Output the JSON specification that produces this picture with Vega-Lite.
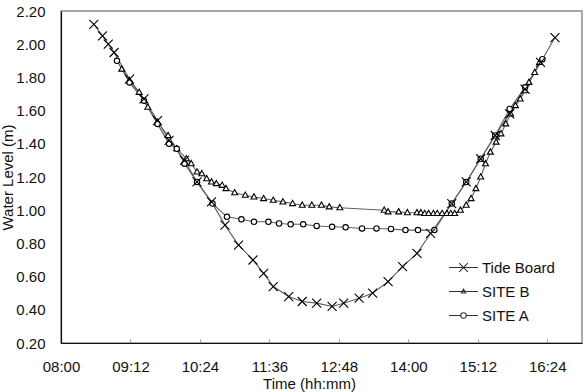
{
  "$schema": "https://vega.github.io/schema/vega-lite/v6.json",
  "width": 521,
  "height": 332,
  "autosize": {"type": "none"},
  "padding": {"left": 61, "top": 11, "right": 2, "bottom": 49},
  "background": "white",
  "config": {
    "font": "Liberation Sans",
    "view": {"stroke": "#8c8c8c", "strokeWidth": 1.5},
    "axis": {
      "labelFont": "Liberation Sans",
      "titleFont": "Liberation Sans",
      "labelFontSize": 15,
      "titleFontSize": 15,
      "labelColor": "#111",
      "titleColor": "#111",
      "titleFontWeight": "normal",
      "domainColor": "#111",
      "domainWidth": 1.2,
      "grid": false
    },
    "legend": {
      "labelFont": "Liberation Sans",
      "labelFontSize": 15,
      "labelColor": "#111"
    }
  },
  "data": {
    "values": [
      {"series": "SITE B", "time": "2000-01-01T09:03", "level": 1.85},
      {"series": "SITE B", "time": "2000-01-01T09:11", "level": 1.78},
      {"series": "SITE B", "time": "2000-01-01T09:21", "level": 1.71},
      {"series": "SITE B", "time": "2000-01-01T09:30", "level": 1.62},
      {"series": "SITE B", "time": "2000-01-01T09:40", "level": 1.53},
      {"series": "SITE B", "time": "2000-01-01T09:51", "level": 1.45},
      {"series": "SITE B", "time": "2000-01-01T10:00", "level": 1.37},
      {"series": "SITE B", "time": "2000-01-01T10:10", "level": 1.31},
      {"series": "SITE B", "time": "2000-01-01T10:15", "level": 1.28},
      {"series": "SITE B", "time": "2000-01-01T10:21", "level": 1.23},
      {"series": "SITE B", "time": "2000-01-01T10:26", "level": 1.22},
      {"series": "SITE B", "time": "2000-01-01T10:31", "level": 1.19},
      {"series": "SITE B", "time": "2000-01-01T10:36", "level": 1.17},
      {"series": "SITE B", "time": "2000-01-01T10:41", "level": 1.16},
      {"series": "SITE B", "time": "2000-01-01T10:47", "level": 1.15},
      {"series": "SITE B", "time": "2000-01-01T10:51", "level": 1.13},
      {"series": "SITE B", "time": "2000-01-01T11:00", "level": 1.105},
      {"series": "SITE B", "time": "2000-01-01T11:11", "level": 1.09},
      {"series": "SITE B", "time": "2000-01-01T11:20", "level": 1.08},
      {"series": "SITE B", "time": "2000-01-01T11:30", "level": 1.07},
      {"series": "SITE B", "time": "2000-01-01T11:40", "level": 1.06},
      {"series": "SITE B", "time": "2000-01-01T11:50", "level": 1.05},
      {"series": "SITE B", "time": "2000-01-01T12:00", "level": 1.04},
      {"series": "SITE B", "time": "2000-01-01T12:10", "level": 1.03},
      {"series": "SITE B", "time": "2000-01-01T12:20", "level": 1.03},
      {"series": "SITE B", "time": "2000-01-01T12:30", "level": 1.03},
      {"series": "SITE B", "time": "2000-01-01T12:38", "level": 1.02},
      {"series": "SITE B", "time": "2000-01-01T12:49", "level": 1.015},
      {"series": "SITE B", "time": "2000-01-01T13:35", "level": 1.0},
      {"series": "SITE B", "time": "2000-01-01T13:39", "level": 0.99},
      {"series": "SITE B", "time": "2000-01-01T13:50", "level": 0.99},
      {"series": "SITE B", "time": "2000-01-01T13:59", "level": 0.985},
      {"series": "SITE B", "time": "2000-01-01T14:09", "level": 0.985},
      {"series": "SITE B", "time": "2000-01-01T14:13", "level": 0.985},
      {"series": "SITE B", "time": "2000-01-01T14:17", "level": 0.98},
      {"series": "SITE B", "time": "2000-01-01T14:21", "level": 0.98},
      {"series": "SITE B", "time": "2000-01-01T14:26", "level": 0.98},
      {"series": "SITE B", "time": "2000-01-01T14:30", "level": 0.98},
      {"series": "SITE B", "time": "2000-01-01T14:35", "level": 0.98},
      {"series": "SITE B", "time": "2000-01-01T14:40", "level": 0.98},
      {"series": "SITE B", "time": "2000-01-01T14:44", "level": 0.98},
      {"series": "SITE B", "time": "2000-01-01T14:48", "level": 0.98},
      {"series": "SITE B", "time": "2000-01-01T14:54", "level": 1.0},
      {"series": "SITE B", "time": "2000-01-01T15:00", "level": 1.03},
      {"series": "SITE B", "time": "2000-01-01T15:05", "level": 1.07},
      {"series": "SITE B", "time": "2000-01-01T15:10", "level": 1.13},
      {"series": "SITE B", "time": "2000-01-01T15:15", "level": 1.2},
      {"series": "SITE B", "time": "2000-01-01T15:20", "level": 1.28},
      {"series": "SITE B", "time": "2000-01-01T15:25", "level": 1.35},
      {"series": "SITE B", "time": "2000-01-01T15:31", "level": 1.41},
      {"series": "SITE B", "time": "2000-01-01T15:36", "level": 1.46},
      {"series": "SITE B", "time": "2000-01-01T15:41", "level": 1.52},
      {"series": "SITE B", "time": "2000-01-01T15:46", "level": 1.58},
      {"series": "SITE B", "time": "2000-01-01T15:51", "level": 1.63},
      {"series": "SITE B", "time": "2000-01-01T15:56", "level": 1.67},
      {"series": "SITE B", "time": "2000-01-01T16:01", "level": 1.72},
      {"series": "SITE B", "time": "2000-01-01T16:05", "level": 1.77},
      {"series": "SITE B", "time": "2000-01-01T16:11", "level": 1.83},
      {"series": "SITE B", "time": "2000-01-01T16:16", "level": 1.89},

      {"series": "SITE A", "time": "2000-01-01T08:58", "level": 1.9},
      {"series": "SITE A", "time": "2000-01-01T09:11", "level": 1.77},
      {"series": "SITE A", "time": "2000-01-01T09:26", "level": 1.66},
      {"series": "SITE A", "time": "2000-01-01T09:40", "level": 1.52},
      {"series": "SITE A", "time": "2000-01-01T09:52", "level": 1.4},
      {"series": "SITE A", "time": "2000-01-01T10:00", "level": 1.37},
      {"series": "SITE A", "time": "2000-01-01T10:08", "level": 1.28},
      {"series": "SITE A", "time": "2000-01-01T10:21", "level": 1.17},
      {"series": "SITE A", "time": "2000-01-01T10:37", "level": 1.04},
      {"series": "SITE A", "time": "2000-01-01T10:52", "level": 0.96},
      {"series": "SITE A", "time": "2000-01-01T11:07", "level": 0.945},
      {"series": "SITE A", "time": "2000-01-01T11:20", "level": 0.93},
      {"series": "SITE A", "time": "2000-01-01T11:35", "level": 0.93},
      {"series": "SITE A", "time": "2000-01-01T11:46", "level": 0.92},
      {"series": "SITE A", "time": "2000-01-01T11:58", "level": 0.915},
      {"series": "SITE A", "time": "2000-01-01T12:11", "level": 0.915},
      {"series": "SITE A", "time": "2000-01-01T12:25", "level": 0.905},
      {"series": "SITE A", "time": "2000-01-01T12:41", "level": 0.9},
      {"series": "SITE A", "time": "2000-01-01T12:55", "level": 0.897},
      {"series": "SITE A", "time": "2000-01-01T13:12", "level": 0.89},
      {"series": "SITE A", "time": "2000-01-01T13:27", "level": 0.89},
      {"series": "SITE A", "time": "2000-01-01T13:42", "level": 0.887},
      {"series": "SITE A", "time": "2000-01-01T13:57", "level": 0.88},
      {"series": "SITE A", "time": "2000-01-01T14:10", "level": 0.88},
      {"series": "SITE A", "time": "2000-01-01T14:27", "level": 0.88},
      {"series": "SITE A", "time": "2000-01-01T14:45", "level": 1.04},
      {"series": "SITE A", "time": "2000-01-01T15:00", "level": 1.17},
      {"series": "SITE A", "time": "2000-01-01T15:15", "level": 1.31},
      {"series": "SITE A", "time": "2000-01-01T15:30", "level": 1.45},
      {"series": "SITE A", "time": "2000-01-01T15:45", "level": 1.61},
      {"series": "SITE A", "time": "2000-01-01T16:01", "level": 1.74},
      {"series": "SITE A", "time": "2000-01-01T16:19", "level": 1.91},

      {"series": "Tide Board", "time": "2000-01-01T08:34", "level": 2.12},
      {"series": "Tide Board", "time": "2000-01-01T08:43", "level": 2.05},
      {"series": "Tide Board", "time": "2000-01-01T08:49", "level": 2.0},
      {"series": "Tide Board", "time": "2000-01-01T08:55", "level": 1.95},
      {"series": "Tide Board", "time": "2000-01-01T09:11", "level": 1.79},
      {"series": "Tide Board", "time": "2000-01-01T09:26", "level": 1.67},
      {"series": "Tide Board", "time": "2000-01-01T09:40", "level": 1.54},
      {"series": "Tide Board", "time": "2000-01-01T09:52", "level": 1.42},
      {"series": "Tide Board", "time": "2000-01-01T10:08", "level": 1.3},
      {"series": "Tide Board", "time": "2000-01-01T10:21", "level": 1.17},
      {"series": "Tide Board", "time": "2000-01-01T10:36", "level": 1.05},
      {"series": "Tide Board", "time": "2000-01-01T10:50", "level": 0.91},
      {"series": "Tide Board", "time": "2000-01-01T11:04", "level": 0.79},
      {"series": "Tide Board", "time": "2000-01-01T11:19", "level": 0.7},
      {"series": "Tide Board", "time": "2000-01-01T11:30", "level": 0.62},
      {"series": "Tide Board", "time": "2000-01-01T11:40", "level": 0.54},
      {"series": "Tide Board", "time": "2000-01-01T11:56", "level": 0.48},
      {"series": "Tide Board", "time": "2000-01-01T12:10", "level": 0.45},
      {"series": "Tide Board", "time": "2000-01-01T12:25", "level": 0.44},
      {"series": "Tide Board", "time": "2000-01-01T12:41", "level": 0.42},
      {"series": "Tide Board", "time": "2000-01-01T12:53", "level": 0.44},
      {"series": "Tide Board", "time": "2000-01-01T13:09", "level": 0.47},
      {"series": "Tide Board", "time": "2000-01-01T13:23", "level": 0.5},
      {"series": "Tide Board", "time": "2000-01-01T13:39", "level": 0.57},
      {"series": "Tide Board", "time": "2000-01-01T13:54", "level": 0.66},
      {"series": "Tide Board", "time": "2000-01-01T14:09", "level": 0.74},
      {"series": "Tide Board", "time": "2000-01-01T14:23", "level": 0.86},
      {"series": "Tide Board", "time": "2000-01-01T14:45", "level": 1.04},
      {"series": "Tide Board", "time": "2000-01-01T15:00", "level": 1.17},
      {"series": "Tide Board", "time": "2000-01-01T15:15", "level": 1.31},
      {"series": "Tide Board", "time": "2000-01-01T15:30", "level": 1.45},
      {"series": "Tide Board", "time": "2000-01-01T15:45", "level": 1.58},
      {"series": "Tide Board", "time": "2000-01-01T16:01", "level": 1.73},
      {"series": "Tide Board", "time": "2000-01-01T16:17", "level": 1.89},
      {"series": "Tide Board", "time": "2000-01-01T16:32", "level": 2.04}
    ]
  },
  "encoding": {
    "x": {
      "field": "time",
      "type": "temporal",
      "title": "Time (hh:mm)",
      "scale": {
        "domain": [
          {"year": 2000, "month": 1, "date": 1, "hours": 8, "minutes": 0},
          {"year": 2000, "month": 1, "date": 1, "hours": 17, "minutes": 0}
        ]
      },
      "axis": {
        "format": "%H:%M",
        "values": [
          {"year": 2000, "month": 1, "date": 1, "hours": 8, "minutes": 0},
          {"year": 2000, "month": 1, "date": 1, "hours": 9, "minutes": 12},
          {"year": 2000, "month": 1, "date": 1, "hours": 10, "minutes": 24},
          {"year": 2000, "month": 1, "date": 1, "hours": 11, "minutes": 36},
          {"year": 2000, "month": 1, "date": 1, "hours": 12, "minutes": 48},
          {"year": 2000, "month": 1, "date": 1, "hours": 14, "minutes": 0},
          {"year": 2000, "month": 1, "date": 1, "hours": 15, "minutes": 12},
          {"year": 2000, "month": 1, "date": 1, "hours": 16, "minutes": 24}
        ],
        "tickSize": -4,
        "tickColor": "#999",
        "labelPadding": 20,
        "labelFlush": false,
        "labelOverlap": false,
        "titlePadding": 2,
        "titleX": 248
      }
    },
    "y": {
      "field": "level",
      "type": "quantitative",
      "title": "Water Level (m)",
      "scale": {"domain": [0.2, 2.2], "nice": false, "zero": false},
      "axis": {
        "values": [0.2, 0.4, 0.6, 0.8, 1.0, 1.2, 1.4, 1.6, 1.8, 2.0, 2.2],
        "format": ".2f",
        "ticks": false,
        "tickSize": 0,
        "labelPadding": 16,
        "labelFlush": false,
        "labelOverlap": false,
        "titlePadding": 0
      }
    }
  },
  "resolve": {
    "scale": {"shape": "independent"},
    "legend": {"shape": "independent"}
  },
  "layer": [
    {
      "mark": {"type": "line", "strokeWidth": 1.1, "color": "#5e5e5e"},
      "encoding": {
        "detail": {"field": "series", "type": "nominal"}
      }
    },
    {
      "mark": {"type": "point", "size": 81, "fill": "white", "stroke": "#000", "strokeWidth": 1.1, "opacity": 1},
      "encoding": {
        "shape": {
          "field": "series",
          "type": "nominal",
          "scale": {
            "domain": ["Tide Board", "SITE B", "SITE A"],
            "range": [
              "M-1,-1L1,1M-1,1L1,-1",
              "M0,-0.72L0.66,0.45L-0.66,0.45Z",
              "M-0.6,0A0.6,0.6,0,1,1,0.6,0A0.6,0.6,0,1,1,-0.6,0Z"
            ]
          },
          "legend": null
        }
      }
    },
    {
      "transform": [{"filter": "false"}],
      "mark": {"type": "point", "size": 841, "fill": "white", "stroke": "#333", "strokeWidth": 1.1, "opacity": 1},
      "encoding": {
        "shape": {
          "field": "series",
          "type": "nominal",
          "scale": {
            "domain": ["Tide Board", "SITE B", "SITE A"],
            "range": [
              "M-1,0H1M-0.3,-0.3L0.3,0.3M-0.3,0.3L0.3,-0.3",
              "M-1,0H1M0,-0.17L0.15,0.1L-0.15,0.1Z",
              "M-1,0H-0.19A0.19,0.19,0,1,1,0.19,0A0.19,0.19,0,1,1,-0.19,0M0.19,0H1"
            ]
          },
          "legend": {
            "title": null,
            "orient": "none",
            "legendX": 387,
            "legendY": 241,
            "padding": 0,
            "rowPadding": -0.5,
            "symbolSize": 841,
            "symbolOpacity": 1,
            "symbolStrokeWidth": 1.1,
            "labelOffset": 3
          }
        }
      }
    }
  ]
}
